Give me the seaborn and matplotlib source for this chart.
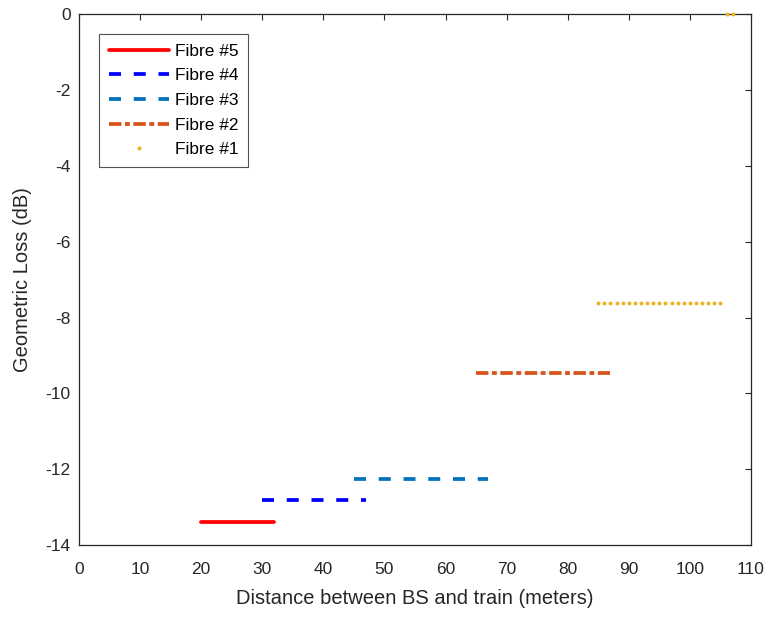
import pandas as pd
import matplotlib
matplotlib.use('Agg')
import matplotlib.pyplot as plt
import seaborn as sns

# Dados
fibre5_x = [20, 32]
fibre5_y = [-13.4, -13.4]
fibre4_x = [30, 47]
fibre4_y = [-12.82, -12.82]
fibre3_x = [45, 67]
fibre3_y = [-12.26, -12.26]
fibre2_x = [65, 87]
fibre2_y = [-9.46, -9.46]
fibre1_x = [85, 86, 87, 88, 89, 90, 91, 92, 93, 94, 95, 96, 97, 98, 99, 100,
            101, 102, 103, 104, 105, 106, 107]
fibre1_y = [-7.62] * 21 + [0, 0]

x_ticks = [0, 10, 20, 30, 40, 50, 60, 70, 80, 90, 100, 110]
y_ticks = [0, -2, -4, -6, -8, -10, -12, -14]

sns.set_style('white')
plt.rcParams['font.family'] = ['Liberation Sans', 'DejaVu Sans']
plt.rcParams['axes.unicode_minus'] = False
cinza = '#262626'

fig = plt.figure(figsize=(7.71, 6.17), dpi=100)
ax = fig.add_axes([0.1025, 0.1167, 0.8715, 0.8601])

df5 = pd.DataFrame({'x': fibre5_x, 'y': fibre5_y})
df4 = pd.DataFrame({'x': fibre4_x, 'y': fibre4_y})
df3 = pd.DataFrame({'x': fibre3_x, 'y': fibre3_y})
df2 = pd.DataFrame({'x': fibre2_x, 'y': fibre2_y})
df1 = pd.DataFrame({'x': fibre1_x, 'y': fibre1_y})

lw = 2.7
sns.lineplot(x='x', y='y', data=df5, ax=ax, color=(1, 0, 0), lw=lw,
             label='Fibre #5')
sns.lineplot(x='x', y='y', data=df4, ax=ax, color=(0, 0, 1), lw=lw,
             label='Fibre #4').lines[-1].set_dashes([3.2, 3.4])
sns.lineplot(x='x', y='y', data=df3, ax=ax, color=(0, 0.447, 0.741), lw=lw,
             label='Fibre #3').lines[-1].set_dashes([3.2, 3.4])
sns.lineplot(x='x', y='y', data=df2, ax=ax, color=(0.85, 0.325, 0.098), lw=lw,
             label='Fibre #2').lines[-1].set_dashes([3.3, 0.95, 1.3, 0.95])
sns.lineplot(x='x', y='y', data=df1, ax=ax, color=(0.929, 0.694, 0.125),
             linestyle='none', marker='o', markersize=2.8, markeredgewidth=0,
             label='Fibre #1', clip_on=False, zorder=5)

ax.set_xlim(0, 110)
ax.set_ylim(-14, 0)
ax.set_xticks(x_ticks)
ax.set_yticks(y_ticks)
ax.tick_params(direction='in', length=4, width=0.8, colors=cinza,
               labelsize=12.5, top=True, right=True, pad=6)
ax.tick_params(axis='x', pad=12)
for s in ax.spines.values():
    s.set_color(cinza)
    s.set_linewidth(0.9)

ax.set_xlabel('Distance between BS and train (meters)', fontsize=14.5,
              color=cinza, labelpad=9)
ax.set_ylabel('Geometric Loss (dB)', fontsize=14.5, color=cinza, labelpad=10)

leg = ax.legend(loc='upper left', bbox_to_anchor=(0.03, 0.963),
                borderaxespad=0, fontsize=12.5, handlelength=3.5,
                handletextpad=0.3, labelspacing=0.55, fancybox=False,
                frameon=True, edgecolor='#262626', borderpad=0.55)
leg.get_frame().set_linewidth(0.8)
for t in leg.get_texts():
    t.set_color('black')

fig.savefig('out.png', dpi=100)
